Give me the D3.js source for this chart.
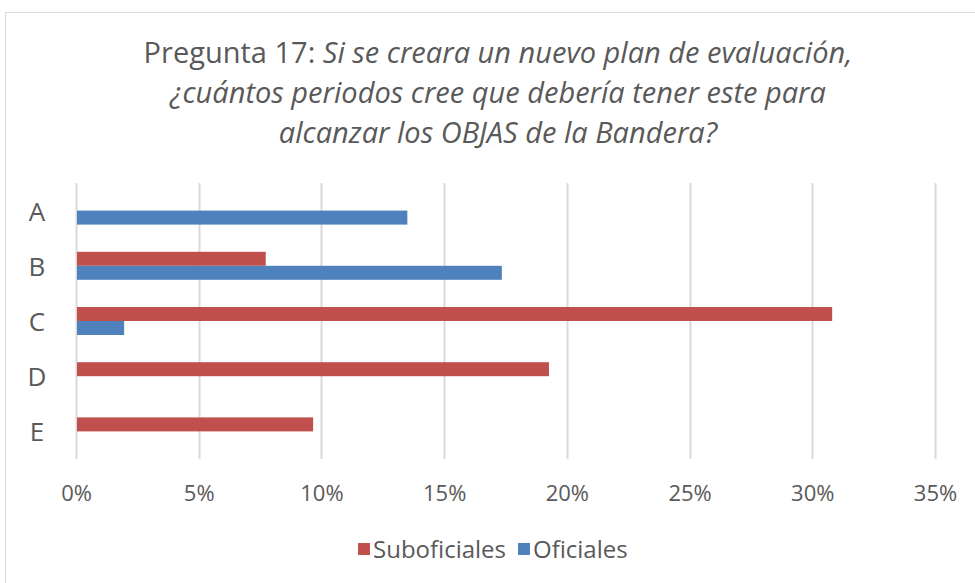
<!DOCTYPE html>
<html>
<head>
<meta charset="utf-8">
<script src="https://cdn.jsdelivr.net/npm/d3@7"></script>
<style>
  body { margin: 0; background: #fff; }
  svg { display: block; font-family: "Open Sans", Lato, sans-serif; }
</style>
</head>
<body>
<svg id="chart" width="975" height="583"></svg>
<script>
var categories = ["A", "B", "C", "D", "E"];
var series = ["Suboficiales", "Oficiales"];
var suboficiales = [0, 0.0769, 0.3077, 0.1923, 0.0962];
var oficiales = [0.1346, 0.1731, 0.0192, 0, 0];
var ticks = [0, 0.05, 0.10, 0.15, 0.20, 0.25, 0.30, 0.35];

var colors = { "Suboficiales": "#c0504d", "Oficiales": "#4f81bd" };
var textColor = "#595959";

var svg = d3.select("#chart"),
    margin = { top: 183, left: 76, right: 40, bottom: 124 },
    width = +svg.attr("width") - margin.left - margin.right,
    height = +svg.attr("height") - margin.top - margin.bottom;

// outer chart border
svg.append("rect")
    .attr("x", 5.5).attr("y", 12.5)
    .attr("width", 1000).attr("height", 600)
    .attr("fill", "none")
    .attr("stroke", "#d9d9d9");

// title
var title = svg.append("text")
    .attr("text-anchor", "middle")
    .attr("fill", textColor)
    .attr("font-size", 29);
var line1 = title.append("tspan").attr("x", 498).attr("y", 63);
line1.append("tspan").text("Pregunta 17: ");
line1.append("tspan").attr("font-style", "italic").text("Si se creara un nuevo plan de evaluación,");
title.append("tspan").attr("x", 498).attr("y", 103).attr("font-style", "italic")
    .text("¿cuántos periodos cree que debería tener este para");
title.append("tspan").attr("x", 498).attr("y", 143).attr("font-style", "italic")
    .text("alcanzar los OBJAS de la Bandera?");

var x = d3.scaleLinear().domain([0, 0.35]).range([0, width]);

var y0 = d3.scaleBand()
    .domain(categories)
    .range([0, height])
    .paddingInner(0.493)
    .paddingOuter(0.2465);

var y1 = d3.scaleBand()
    .domain(series)
    .range([0, y0.bandwidth()]);

var g = svg.append("g")
    .attr("transform", "translate(" + margin.left + "," + margin.top + ")");

// gridlines
g.append("g")
    .selectAll("line")
    .data(ticks)
    .enter()
    .append("line")
    .attr("x1", function (d) { return Math.round(x(d)) + 0.5; })
    .attr("x2", function (d) { return Math.round(x(d)) + 0.5; })
    .attr("y1", 0)
    .attr("y2", height)
    .attr("stroke", "#d9d9d9")
    .attr("stroke-width", 2);

var data = categories.map(function (c, i) {
    return { cat: c, Suboficiales: suboficiales[i], Oficiales: oficiales[i] };
});

g.append("g")
    .selectAll("g")
    .data(data)
    .enter()
    .append("g")
    .attr("transform", function (d) { return "translate(0," + y0(d.cat) + ")"; })
    .selectAll("rect")
    .data(function (d) {
        return series.map(function (key) { return { key: key, value: d[key] }; });
    })
    .enter()
    .append("rect")
    .attr("x", x(0) + 1)
    .attr("y", function (d) { return y1(d.key); })
    .attr("width", function (d) { return d.value > 0 ? x(d.value) - x(0) : 0; })
    .attr("height", y1.bandwidth())
    .attr("fill", function (d) { return colors[d.key]; });

// x axis labels
var xAxis = g.append("g")
    .attr("transform", "translate(0," + height + ")")
    .call(d3.axisBottom(x).tickValues(ticks).tickFormat(d3.format(".0%")).tickSize(0));
xAxis.select(".domain").remove();
xAxis.selectAll("text")
    .attr("font-family", "'Open Sans', Lato, sans-serif")
    .attr("font-size", 22)
    .attr("fill", textColor)
    .attr("y", 42)
    .attr("dy", 0);

// category labels
var yAxis = g.append("g")
    .call(d3.axisLeft(y0).tickSize(0));
yAxis.select(".domain").remove();
yAxis.selectAll("text")
    .attr("font-family", "'Open Sans', Lato, sans-serif")
    .attr("font-size", 26)
    .attr("fill", textColor)
    .attr("text-anchor", "middle")
    .attr("x", -39)
    .attr("dy", 10);

// legend
var legend = svg.append("g")
    .selectAll("g")
    .data(series)
    .enter()
    .append("g")
    .attr("transform", function (d, i) { return "translate(" + (i === 0 ? 358 : 518) + ",543)"; });

legend.append("rect")
    .attr("width", 12)
    .attr("height", 12)
    .attr("fill", function (d) { return colors[d]; });

legend.append("text")
    .attr("x", 15)
    .attr("y", 6)
    .attr("dy", "0.36em")
    .attr("font-size", 24)
    .attr("fill", textColor)
    .text(function (d) { return d; });
</script>
</body>
</html>
